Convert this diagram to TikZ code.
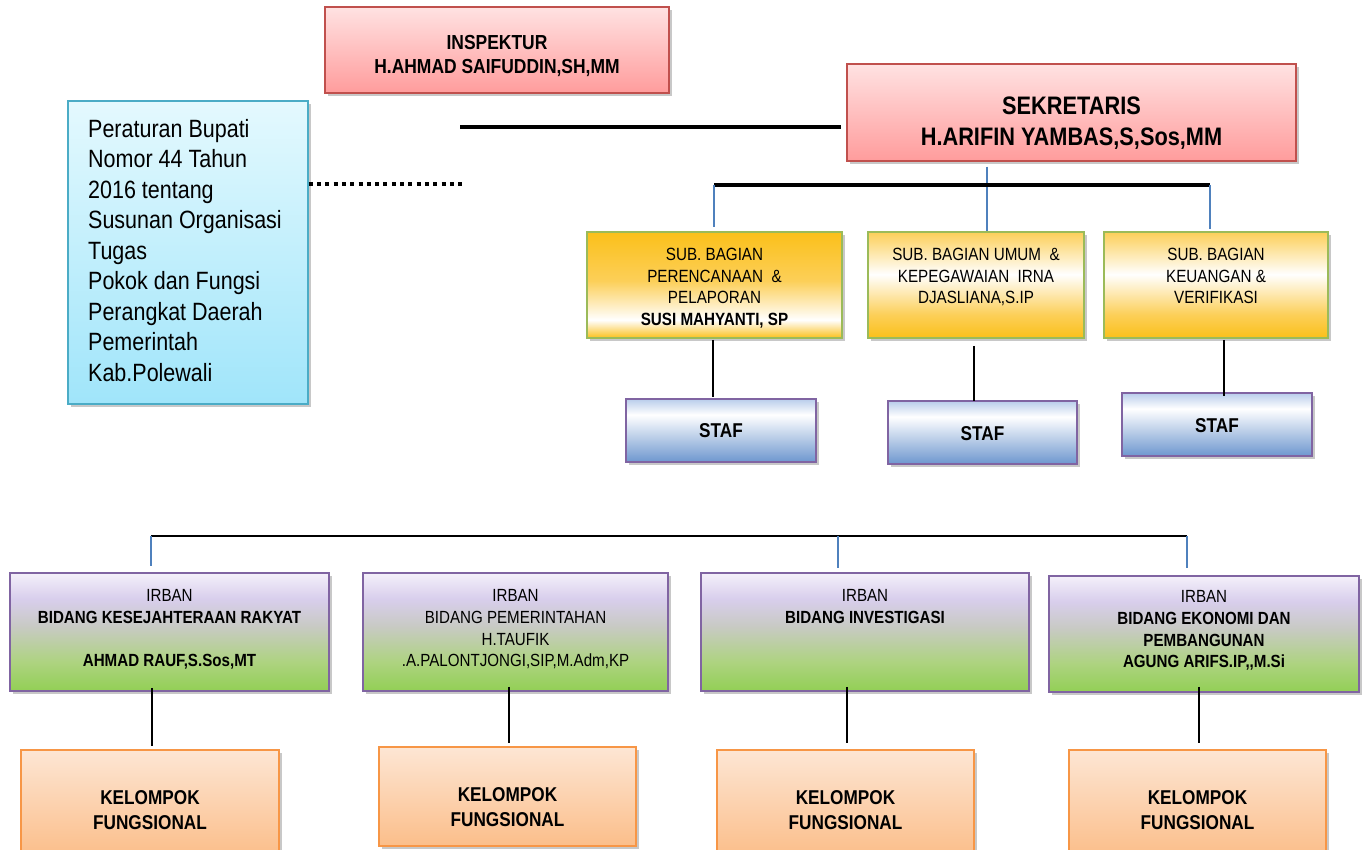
\documentclass[tikz,border=0pt]{standalone}
\usepackage{fontspec}
\setmainfont{Liberation Sans}[FakeStretch=0.86]
\usetikzlibrary{shadows}
\definecolor{pinkT}{HTML}{FFE2E2}
\definecolor{pinkB}{HTML}{FF9C9C}
\definecolor{pinkD}{HTML}{C0504D}
\definecolor{regT}{HTML}{E4F9FE}
\definecolor{regB}{HTML}{A0E5FA}
\definecolor{regD}{HTML}{4BACC6}
\definecolor{subO}{HTML}{FBC01A}
\definecolor{subL}{HTML}{FCCF58}
\definecolor{subD}{HTML}{9BBB59}
\definecolor{stafT}{HTML}{B9CDEB}
\definecolor{stafB}{HTML}{6E97CF}
\definecolor{purD}{HTML}{8064A2}
\definecolor{irbT}{HTML}{F4F0FA}
\definecolor{irbL}{HTML}{D8CEEC}
\definecolor{irbG}{HTML}{C8CAC4}
\definecolor{irbM}{HTML}{AED381}
\definecolor{irbB}{HTML}{92CF55}
\definecolor{kelT}{HTML}{FDE6D4}
\definecolor{kelB}{HTML}{FBBE8A}
\definecolor{kelD}{HTML}{F79646}
\definecolor{linkB}{HTML}{4F81BD}
% the path is mapped to the 25bp..75bp band of each shading
\pgfdeclareverticalshading{pinkshade}{100bp}{color(0bp)=(pinkB); color(25bp)=(pinkB); color(75bp)=(pinkT); color(100bp)=(pinkT)}
\pgfdeclareverticalshading{regshade}{100bp}{color(0bp)=(regB); color(25bp)=(regB); color(75bp)=(regT); color(100bp)=(regT)}
\pgfdeclareverticalshading{subAshade}{100bp}{color(0bp)=(subO); color(25bp)=(subO); color(33.5bp)=(white); color(52bp)=(subL); color(75bp)=(subO); color(100bp)=(subO)}
\pgfdeclareverticalshading{subBshade}{100bp}{color(0bp)=(subO); color(25bp)=(subO); color(36bp)=(subL); color(55bp)=(white); color(75bp)=(subL); color(100bp)=(subL)}
\pgfdeclareverticalshading{stafshade}{100bp}{color(0bp)=(stafB); color(25bp)=(stafB); color(62.5bp)=(white); color(75bp)=(stafT); color(100bp)=(stafT)}
\pgfdeclareverticalshading{irbshade}{100bp}{color(0bp)=(irbB); color(25bp)=(irbB); color(37.5bp)=(irbM); color(52.5bp)=(irbG); color(64bp)=(irbL); color(75bp)=(irbT); color(100bp)=(irbT)}
\pgfdeclareverticalshading{kelshade}{100bp}{color(0bp)=(kelB); color(25bp)=(kelB); color(75bp)=(kelT); color(100bp)=(kelT)}
\tikzset{
  boxbase/.style={line width=1.5pt, inner sep=0pt, shading angle=0,
    drop shadow={shadow xshift=2.5pt, shadow yshift=-3pt, opacity=0.3, fill=black!70}},
  pinkbox/.style={boxbase, draw=pinkD, shade, shading=pinkshade},
  regbox/.style={boxbase, draw=regD, shade, shading=regshade},
  subAbox/.style={boxbase, draw=subD, shade, shading=subAshade},
  subBbox/.style={boxbase, draw=subD, shade, shading=subBshade},
  stafbox/.style={boxbase, draw=purD, shade, shading=stafshade},
  irbbox/.style={boxbase, draw=purD, shade, shading=irbshade},
  kelbox/.style={boxbase, draw=kelD, shade, shading=kelshade},
  txt/.style={inner sep=0pt, anchor=north, align=center},
  thickline/.style={line width=4.5pt, black},
  barline/.style={line width=3.6pt, black},
  midline/.style={line width=2.4pt, black},
  thinline/.style={line width=1.4pt, black},
  blueline/.style={line width=1.4pt, linkB},
  dotline/.style={line width=4pt, black, dash pattern=on 4pt off 4.3pt}
}
\begin{document}
\begin{tikzpicture}[x=1pt,y=-1pt]
\useasboundingbox (0,0) rectangle (1364,850);
\fill[white] (0,0) rectangle (1364,850);

% ---- boxes ----
\node[pinkbox, minimum width=344pt, minimum height=86pt] (insp) at (497,50) {};
\node[pinkbox, minimum width=449pt, minimum height=97pt] (sek) at (1071.5,112.5) {};
\node[regbox, minimum width=240pt, minimum height=303pt] (reg) at (188,252.5) {};
\node[subAbox, minimum width=255pt, minimum height=106pt] (sub1) at (714.5,285) {};
\node[subBbox, minimum width=216pt, minimum height=106pt] (sub2) at (976,285) {};
\node[subBbox, minimum width=224pt, minimum height=106pt] (sub3) at (1216,285) {};
\node[stafbox, minimum width=190pt, minimum height=63pt] (staf1) at (721,430.5) {};
\node[stafbox, minimum width=189pt, minimum height=63pt] (staf2) at (982.5,432.5) {};
\node[stafbox, minimum width=190pt, minimum height=63pt] (staf3) at (1217,424.5) {};
\node[irbbox, minimum width=319pt, minimum height=118pt] (irb1) at (169.5,632) {};
\node[irbbox, minimum width=305pt, minimum height=118pt] (irb2) at (515.5,632) {};
\node[irbbox, minimum width=328pt, minimum height=118pt] (irb3) at (865,632) {};
\node[irbbox, minimum width=310pt, minimum height=116pt] (irb4) at (1204,634) {};
\node[kelbox, minimum width=258pt, minimum height=106pt] (kel1) at (150,803) {};
\node[kelbox, minimum width=257pt, minimum height=99pt] (kel2) at (507.5,796.5) {};
\node[kelbox, minimum width=257pt, minimum height=106pt] (kel3) at (845.5,803) {};
\node[kelbox, minimum width=257pt, minimum height=106pt] (kel4) at (1197.5,803) {};

% ---- texts ----
\node[txt, font=\fontsize{20.3pt}{24pt}\selectfont\bfseries] (inspT) at (497,35.5)
  {INSPEKTUR\\H.AHMAD SAIFUDDIN,SH,MM};
\node[txt, font=\fontsize{25.3pt}{31pt}\selectfont\bfseries] (sekT) at (1071.5,96.9)
  {SEKRETARIS\\H.ARIFIN YAMBAS,S,Sos,MM};
\node[inner sep=0pt, anchor=north west, align=left, font=\fontsize{25pt}{30.5pt}\selectfont] (regT) at (88,119.1)
  {Peraturan Bupati\\Nomor 44 Tahun\\2016 tentang\\Susunan Organisasi\\Tugas\\Pokok dan Fungsi\\Perangkat Daerah\\Pemerintah\\Kab.Polewali};
\node[txt, font=\fontsize{17.7pt}{21.5pt}\selectfont] (sub1T) at (714.5,248.3)
  {SUB. BAGIAN\\PERENCANAAN\ \ \&\\PELAPORAN\\\textbf{SUSI MAHYANTI, SP}};
\node[txt, font=\fontsize{17.7pt}{21.5pt}\selectfont] (sub2T) at (976,248.3)
  {SUB. BAGIAN UMUM\ \ \&\\KEPEGAWAIAN\ \ IRNA\\DJASLIANA,S.IP};
\node[txt, font=\fontsize{17.7pt}{21.5pt}\selectfont] (sub3T) at (1216,248.3)
  {SUB. BAGIAN\\KEUANGAN \&\\VERIFIKASI};
\node[txt, font=\fontsize{20pt}{24pt}\selectfont\bfseries] (staf1T) at (721,423.7) {STAF};
\node[txt, font=\fontsize{20pt}{24pt}\selectfont\bfseries] (staf2T) at (982.5,426.7) {STAF};
\node[txt, font=\fontsize{20pt}{24pt}\selectfont\bfseries] (staf3T) at (1217,418.7) {STAF};
\node[txt, font=\fontsize{17.6pt}{21.7pt}\selectfont] (irb1T) at (169.5,589.4)
  {IRBAN\\\textbf{BIDANG KESEJAHTERAAN RAKYAT}\\[21.7pt]\textbf{AHMAD RAUF,S.Sos,MT}};
\node[txt, font=\fontsize{17.6pt}{21.7pt}\selectfont] (irb2T) at (515.5,589.4)
  {IRBAN\\BIDANG PEMERINTAHAN\\H.TAUFIK\\.A.PALONTJONGI,SIP,M.Adm,KP};
\node[txt, font=\fontsize{17.6pt}{21.7pt}\selectfont] (irb3T) at (865,589.4)
  {IRBAN\\\textbf{BIDANG INVESTIGASI}};
\node[txt, font=\fontsize{17.6pt}{21.7pt}\selectfont] (irb4T) at (1204,590.4)
  {IRBAN\\\textbf{BIDANG EKONOMI DAN}\\\textbf{PEMBANGUNAN}\\\textbf{AGUNG ARIFS.IP,\kern0pt,M.Si}};
\node[txt, font=\fontsize{20pt}{24.5pt}\selectfont\bfseries] (kel1T) at (150,790.7) {KELOMPOK\\FUNGSIONAL};
\node[txt, font=\fontsize{20pt}{24.5pt}\selectfont\bfseries] (kel2T) at (507.5,787.7) {KELOMPOK\\FUNGSIONAL};
\node[txt, font=\fontsize{20pt}{24.5pt}\selectfont\bfseries] (kel3T) at (845.5,790.7) {KELOMPOK\\FUNGSIONAL};
\node[txt, font=\fontsize{20pt}{24.5pt}\selectfont\bfseries] (kel4T) at (1197.5,790.7) {KELOMPOK\\FUNGSIONAL};

% ---- connectors ----
\coordinate (tl) at (460,127);
\draw[thickline] (tl) -- ([xshift=-5pt]sek.west |- tl);
\coordinate (dotEnd) at (466,184);
\draw[dotline] (reg.east |- dotEnd) -- (dotEnd);

\coordinate (jl) at (714,185);
\coordinate (jm) at (987,185);
\coordinate (jr) at (1210,185);
\draw[blueline] ([yshift=-5pt]sek.south -| jm) -- (sub2.north -| jm);
\draw[barline] (jl) -- (jr);
\draw[blueline] (jl) -- ([yshift=4pt]sub1.north -| jl);
\draw[blueline] (jr) -- ([yshift=2pt]sub3.north -| jr);

\coordinate (s1x) at (713,0);
\coordinate (s2x) at (974,0);
\coordinate (s3x) at (1224,0);
\draw[thinline] ([yshift=-1pt]sub1.south -| s1x) -- ([yshift=1pt]staf1.north -| s1x);
\draw[thinline] ([yshift=-7pt]sub2.south -| s2x) -- ([yshift=-1pt]staf2.north -| s2x);
\draw[thinline] ([yshift=-1pt]sub3.south -| s3x) -- ([yshift=-4pt]staf3.north -| s3x);

\coordinate (b1) at (151,536);
\coordinate (b3) at (838,536);
\coordinate (b4) at (1187,536);
\draw[midline] (b1) -- (b4);
\draw[blueline] (b1) -- ([yshift=6pt]irb1.north -| b1);
\draw[blueline] (b3) -- ([yshift=4pt]irb3.north -| b3);
\draw[blueline] (b4) -- ([yshift=7pt]irb4.north -| b4);

\coordinate (k1x) at (152,0);
\coordinate (k2x) at (509,0);
\coordinate (k3x) at (847,0);
\coordinate (k4x) at (1199,0);
\draw[thinline] ([yshift=4pt]irb1.south -| k1x) -- ([yshift=3pt]kel1.north -| k1x);
\draw[thinline] ([yshift=5pt]irb2.south -| k2x) -- ([yshift=3pt]kel2.north -| k2x);
\draw[thinline] ([yshift=5pt]irb3.south -| k3x) -- ([yshift=6pt]kel3.north -| k3x);
\draw[thinline] ([yshift=6pt]irb4.south -| k4x) -- ([yshift=6pt]kel4.north -| k4x);
\end{tikzpicture}
\end{document}
